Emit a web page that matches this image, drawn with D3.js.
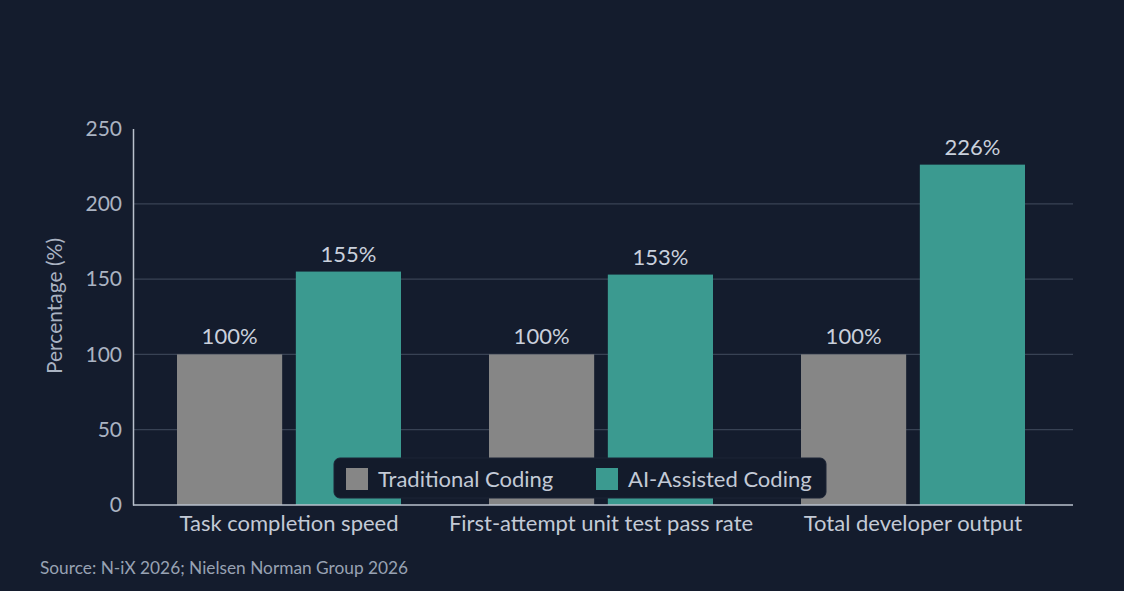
<!DOCTYPE html>
<html><head><meta charset="utf-8">
<script src="https://cdn.jsdelivr.net/npm/d3@7"></script>
<style>
html,body{margin:0;padding:0;background:#141c2d;}
svg{display:block;font-family:Lato,"Open Sans",sans-serif;}
</style></head>
<body>
<svg id="chart" width="1124" height="591"></svg>
<script>
const categories = ["Task completion speed", "First-attempt unit test pass rate", "Total developer output"];
const seriesNames = ["Traditional Coding", "AI-Assisted Coding"];
const traditional = [100, 100, 100];
const aiAssisted = [155, 153, 226];
const yTicks = [0, 50, 100, 150, 200, 250];
const colors = ["#868686", "#3b9a90"];

const svg = d3.select("#chart");
const W = 1124, H = 591;
svg.append("rect").attr("width", W).attr("height", H).attr("fill", "#141c2d");

const m = {left: 133, right: 1073, top: 128.5, bottom: 505};
const y = d3.scaleLinear().domain([0, 250]).range([m.bottom, m.top]);
const x0 = d3.scaleBand().domain(categories).range([m.left, 1069]).paddingInner(0.282).paddingOuter(0.141);
const x1 = d3.scaleBand().domain(seriesNames).range([0, x0.bandwidth()]).paddingInner(0.115);

const data = categories.map((c, i) => ({cat: c, vals: [traditional[i], aiAssisted[i]]}));

// gridlines
svg.append("g").selectAll("line").data(yTicks.filter(t => t > 0 && t < 250)).join("line")
  .attr("x1", m.left).attr("x2", m.right)
  .attr("y1", d => y(d)).attr("y2", d => y(d))
  .attr("stroke", "#384254").attr("stroke-width", 1.2);

// y axis
const yAxis = svg.append("g").attr("transform", `translate(${m.left},0)`)
  .call(d3.axisLeft(y).tickValues(yTicks).tickSize(0).tickPadding(11));
yAxis.select(".domain").attr("stroke", "#b9c0cc").attr("stroke-width", 1.5);
yAxis.selectAll("text").attr("fill", "#aab3c2").attr("font-size", 21).attr("font-family", "Lato, sans-serif");

// bars
const groups = svg.append("g").selectAll("g").data(data).join("g")
  .attr("transform", d => `translate(${x0(d.cat)},0)`);
groups.selectAll("rect").data(d => d.vals.map((v, j) => ({s: seriesNames[j], v, j}))).join("rect")
  .attr("x", d => x1(d.s)).attr("width", x1.bandwidth())
  .attr("y", d => y(d.v)).attr("height", d => y(0) - y(d.v))
  .attr("fill", d => colors[d.j]);
groups.selectAll("text").data(d => d.vals.map((v, j) => ({s: seriesNames[j], v, j}))).join("text")
  .attr("x", d => x1(d.s) + x1.bandwidth() / 2)
  .attr("y", d => y(d.v) - 10)
  .attr("text-anchor", "middle")
  .attr("fill", "#c9d0dc").attr("font-size", 22)
  .text(d => d.v + "%");

// x axis baseline + labels
const xAxis = svg.append("g").attr("transform", `translate(0,${m.bottom})`)
  .call(d3.axisBottom(x0).tickSize(0).tickPadding(10));
xAxis.select(".domain").remove();
xAxis.selectAll("text").attr("fill", "#c3cad6").attr("font-size", 22).attr("font-family", "Lato, sans-serif");
svg.append("line").attr("x1", m.left).attr("x2", m.right)
  .attr("y1", y(0)).attr("y2", y(0))
  .attr("stroke", "#b9c0cc").attr("stroke-width", 1.5);

// y title
svg.append("text")
  .attr("transform", `translate(62,306) rotate(-90)`)
  .attr("text-anchor", "middle")
  .attr("fill", "#aab3c2").attr("font-size", 21)
  .text("Percentage (%)");

// legend
const leg = svg.append("g").attr("transform", "translate(334,458)");
leg.append("rect").attr("width", 492).attr("height", 40).attr("rx", 6)
  .attr("fill", "#131b2b").attr("stroke", "#1c2436");
const legX = [12, 262];
seriesNames.forEach((s, i) => {
  leg.append("rect").attr("x", legX[i]).attr("y", 10).attr("width", 22).attr("height", 22).attr("fill", colors[i]);
  leg.append("text").attr("x", legX[i] + 32).attr("y", 29)
    .attr("fill", "#c3cad6").attr("font-size", 22).text(s);
});

// source
svg.append("text").attr("x", 40).attr("y", 574)
  .attr("fill", "#98a2b3").attr("font-size", 17.3)
  .text("Source: N-iX 2026; Nielsen Norman Group 2026");
</script>
</body></html>
